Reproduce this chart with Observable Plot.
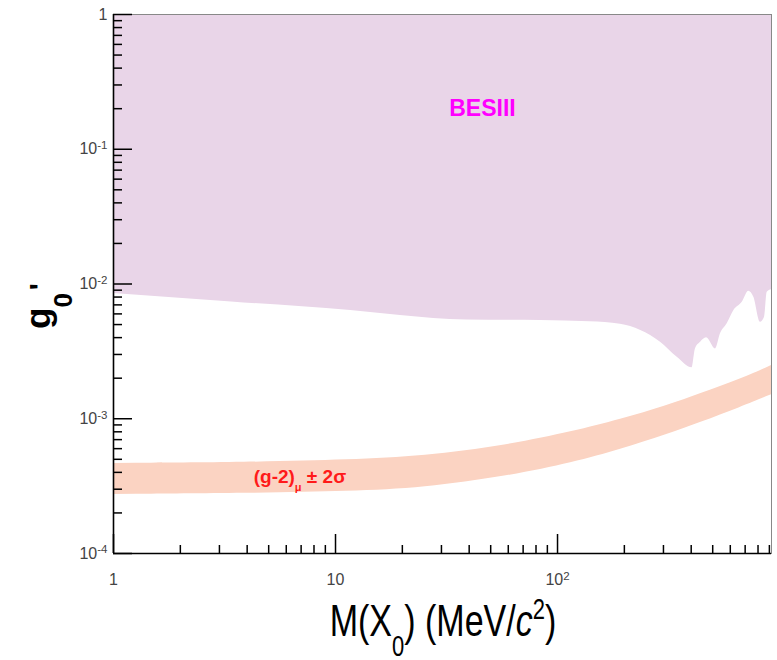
<!DOCTYPE html>
<html><head><meta charset="utf-8">
<script src="https://cdn.jsdelivr.net/npm/d3@7"></script>
<script src="https://cdn.jsdelivr.net/npm/@observablehq/plot@0.6"></script>
<style>body{margin:0;background:#fff;}</style>
</head><body><div id="chart"></div>
<script>
// BESIII excluded region: lower boundary (upper limit on g0')
const besMass  = [1, 3.4, 11.7, 19.6, 39, 84, 140, 192, 237, 291, 346, 404, 418, 441, 469, 515, 542, 581, 623, 679, 727, 766, 821, 856, 880, 920];
const besLimit = [8.5e-3, 7.35e-3, 6.35e-3, 5.85e-3, 5.4e-3, 5.36e-3, 5.25e-3, 5.02e-3, 4.52e-3, 3.70e-3, 2.86e-3, 2.39e-3, 3.30e-3, 3.70e-3, 3.99e-3, 3.30e-3, 4.27e-3, 5.07e-3, 6.36e-3, 7.32e-3, 8.85e-3, 7.98e-3, 5.20e-3, 5.67e-3, 8.69e-3, 9.06e-3];
// (g-2)_mu +- 2 sigma band
const bandMass = [1, 4.14, 11.7, 24.9, 59.5, 118.6, 192, 313, 441, 666, 920];
const bandLow  = [2.74e-4, 2.79e-4, 2.88e-4, 3.06e-4, 3.73e-4, 4.73e-4, 5.91e-4, 7.64e-4, 9.38e-4, 1.21e-3, 1.51e-3];
const bandHigh = [4.66e-4, 4.73e-4, 4.94e-4, 5.25e-4, 6.33e-4, 8.04e-4, 9.87e-4, 1.25e-3, 1.54e-3, 1.96e-3, 2.48e-3];
// axes
const xMajorTicks = [1, 10, 100];
const xTickLabels = ["1", "10", "10^2"];
const xMinorTicks = [2,3,4,5,6,7,8,9,20,30,40,50,60,70,80,90,200,300,400,500,600,700,800,900];
const yMajorTicks = [1e-4, 1e-3, 1e-2, 1e-1, 1];
const yTickLabels = ["10^-4", "10^-3", "10^-2", "10^-1", "1"];
const yMinorTicks = [2e-4,3e-4,4e-4,5e-4,6e-4,7e-4,8e-4,9e-4,2e-3,3e-3,4e-3,5e-3,6e-3,7e-3,8e-3,9e-3,2e-2,3e-2,4e-2,5e-2,6e-2,7e-2,8e-2,9e-2,0.2,0.3,0.4,0.5,0.6,0.7,0.8,0.9];
// text labels
const besLabel = {text: "BESIII", m: 45.9, g: 0.178};
const g2Label = {m: 6.95, g: 3.31e-4};

const FONT = "'Liberation Sans', Arial, Helvetica, sans-serif";
const bes = besMass.map((m, i) => ({m, lo: besLimit[i], hi: 1}));
const band = bandMass.map((m, i) => ({m, lo: bandLow[i], hi: bandHigh[i]}));
const xLab = d => xTickLabels[xMajorTicks.indexOf(d)];
const yLab = d => yTickLabels[yMajorTicks.indexOf(d)];

const plot = Plot.plot({
  width: 777, height: 660,
  marginLeft: 113, marginRight: 6, marginTop: 14, marginBottom: 107,
  style: {fontFamily: FONT, fontSize: "16px", background: "#fff", overflow: "visible"},
  x: {type: "log", domain: [1, 920]},
  y: {type: "log", domain: [1e-4, 1]},
  marks: [
    Plot.areaY(bes, {x: "m", y1: "lo", y2: "hi", fill: "#e9d5e8", curve: "monotone-x"}),
    Plot.areaY(band, {x: "m", y1: "lo", y2: "hi", fill: "#fbd3c2", curve: "basis"}),
    Plot.frame({stroke: "#888", strokeWidth: 1}),
    Plot.ruleX([1], {stroke: "#000", strokeWidth: 1.6}),
    Plot.ruleY([1e-4], {stroke: "#000", strokeWidth: 1.6}),
    Plot.axisX(xMinorTicks, {tickSize: -8, tickFormat: () => "", stroke: "#000", strokeWidth: 1.5, label: null}),
    Plot.axisX(xMajorTicks, {tickSize: -19, tickFormat: () => "", stroke: "#000", strokeWidth: 1.5, label: null}),
    Plot.axisX(xMajorTicks, {tickSize: 0, tickPadding: 20, tickFormat: xLab, fill: "#444", fontSize: 16, label: null}),
    Plot.axisY(yMinorTicks, {tickSize: -9, tickFormat: () => "", stroke: "#000", strokeWidth: 1.5, label: null}),
    Plot.axisY(yMajorTicks, {tickSize: -19, tickFormat: () => "", stroke: "#000", strokeWidth: 1.5, label: null}),
    Plot.axisY(yMajorTicks, {tickSize: 0, tickPadding: 6, tickFormat: yLab, fill: "#444", fontSize: 16, label: null}),
    Plot.text([besLabel], {x: "m", y: "g", text: "text", fill: "#ff00ff", fontWeight: "bold", fontSize: 23, lineAnchor: "bottom", textAnchor: "middle"})
  ]
});
document.getElementById("chart").appendChild(plot);

const svg = d3.select(plot);
const sx = plot.scale("x"), sy = plot.scale("y");

// superscripts in tick labels
svg.selectAll("text").each(function() {
  const t = this.textContent;
  const m = /^10\^(.+)$/.exec(t);
  if (m) {
    const el = d3.select(this);
    el.text(null);
    el.append("tspan").text("10");
    el.append("tspan").attr("dy", "-0.45em").attr("font-size", "0.72em").text(m[1]);
  }
});

// (g-2)_mu +- 2 sigma label
const gx = sx.apply(g2Label.m), gy = sy.apply(g2Label.g);
const gt = svg.append("text").attr("x", gx).attr("y", gy).attr("text-anchor", "middle")
  .attr("font-family", FONT).attr("font-weight", "bold").attr("font-size", 19).attr("fill", "#ff1a1a");
gt.append("tspan").text("(g-2)");
gt.append("tspan").attr("dy", 8).attr("font-size", 11).text("μ");
gt.append("tspan").attr("dy", -8).text(" ± 2σ");

// y axis title: g0'
const yl = svg.append("text").attr("transform", "translate(50,306) rotate(-90)")
  .attr("font-family", FONT).attr("font-weight", "bold").attr("font-size", 35).attr("fill", "#000");
yl.append("tspan").text("g");
yl.append("tspan").attr("dy", 22).attr("font-size", 26).text("0");
yl.append("tspan").attr("dy", -22).attr("dx", 3).attr("font-size", 30).text("'");

// x axis title: M(X0) (MeV/c^2)
const xl = svg.append("text").attr("transform", "translate(443,636) scale(1,1.3)")
  .attr("text-anchor", "middle").attr("font-family", FONT).attr("font-size", 34).attr("fill", "#000");
xl.append("tspan").text("M(X");
xl.append("tspan").attr("dy", 15).attr("font-size", 22).text("0");
xl.append("tspan").attr("dy", -15).text(") (MeV/");
xl.append("tspan").attr("font-style", "italic").text("c");
xl.append("tspan").attr("dy", -13).attr("font-size", 22).text("2");
xl.append("tspan").attr("dy", 13).text(")");
</script>
</body></html>
